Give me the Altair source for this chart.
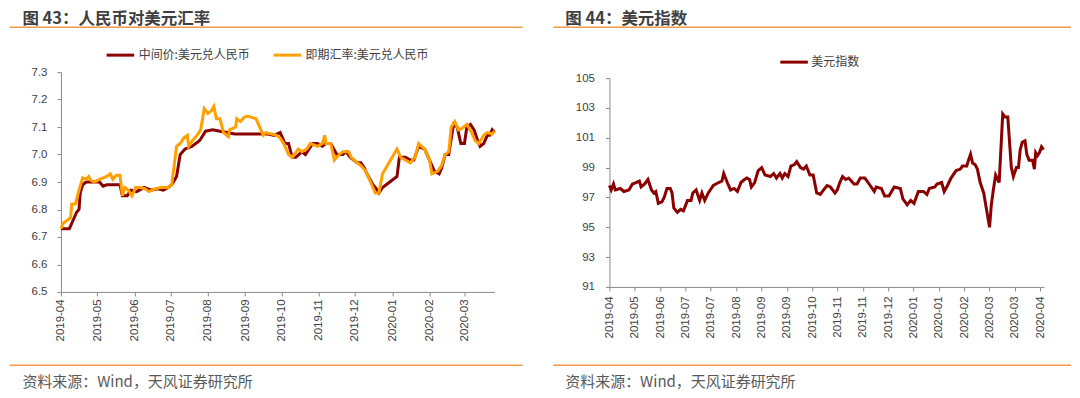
import json
import altair as alt
import pandas as pd

# ---------------- data: left panel (USD/CNY) ----------------
mid_dates = ["2019-04-01","2019-04-08","2019-04-11","2019-04-14","2019-04-16","2019-04-17","2019-04-19","2019-04-22",
             "2019-05-03","2019-05-06","2019-05-09","2019-05-20","2019-05-22","2019-05-26","2019-05-29","2019-06-03",
             "2019-06-09","2019-06-15","2019-06-20","2019-06-25","2019-06-29","2019-07-02","2019-07-06","2019-07-09",
             "2019-07-13","2019-07-19","2019-07-25","2019-07-28","2019-07-30","2019-08-05","2019-08-11","2019-08-17",
             "2019-08-23","2019-09-20","2019-09-25","2019-09-30","2019-10-04","2019-10-07","2019-10-10","2019-10-13",
             "2019-10-18","2019-10-21","2019-10-24","2019-10-27","2019-10-31","2019-11-04","2019-11-07","2019-11-11",
             "2019-11-16","2019-11-21","2019-11-24","2019-11-27","2019-12-03","2019-12-06","2019-12-09","2019-12-11",
             "2019-12-16","2019-12-18","2019-12-21","2019-12-24","2019-12-30","2020-01-05","2020-01-07","2020-01-12",
             "2020-01-16","2020-01-19","2020-01-23","2020-01-28","2020-02-01","2020-02-05","2020-02-09","2020-02-11",
             "2020-02-14","2020-02-17","2020-02-18","2020-02-21","2020-02-24","2020-02-27","2020-03-01","2020-03-03",
             "2020-03-06","2020-03-09","2020-03-12","2020-03-14","2020-03-17","2020-03-20","2020-03-22","2020-03-24",
             "2020-03-26"]
mid_vals = [6.73,6.73,6.76,6.79,6.80,6.86,6.89,6.90,
            6.90,6.885,6.89,6.89,6.85,6.85,6.87,6.865,
            6.88,6.87,6.875,6.87,6.88,6.89,6.92,7.00,
            7.02,7.03,7.05,7.07,7.085,7.09,7.085,7.08,
            7.075,7.075,7.07,7.08,7.04,7.04,6.99,6.99,
            7.01,7.00,7.02,7.04,7.04,7.03,7.04,7.04,
            7.00,7.00,7.01,6.99,6.97,6.97,6.95,6.93,
            6.89,6.88,6.86,6.88,6.90,6.92,6.99,6.99,
            6.98,6.98,7.03,7.02,6.98,6.94,6.93,6.95,
            7.00,7.00,7.03,7.11,7.10,7.04,7.04,7.10,
            7.11,7.09,7.05,7.03,7.04,7.07,7.07,7.09,
            7.08]

spot_dates = ["2019-04-01","2019-04-03","2019-04-06","2019-04-09","2019-04-10","2019-04-13","2019-04-16","2019-04-19",
              "2019-04-22","2019-04-24","2019-04-26","2019-04-29","2019-05-03","2019-05-09","2019-05-12","2019-05-14",
              "2019-05-17","2019-05-20","2019-05-22","2019-05-24","2019-05-27","2019-05-30","2019-06-02","2019-06-06",
              "2019-06-10","2019-06-13","2019-06-18","2019-06-23","2019-06-29","2019-07-02","2019-07-06","2019-07-09",
              "2019-07-12","2019-07-15","2019-07-16","2019-07-19","2019-07-23","2019-07-26","2019-07-29","2019-08-01",
              "2019-08-04","2019-08-06","2019-08-08","2019-08-11","2019-08-14","2019-08-18","2019-08-19","2019-08-24",
              "2019-08-25","2019-08-28","2019-08-31","2019-09-03","2019-09-10","2019-09-13","2019-09-16","2019-09-18",
              "2019-09-23","2019-09-27","2019-09-30","2019-10-03","2019-10-07","2019-10-10","2019-10-15","2019-10-18",
              "2019-10-22","2019-10-25","2019-10-28","2019-10-31","2019-11-04","2019-11-06","2019-11-07","2019-11-11",
              "2019-11-14","2019-11-18","2019-11-21","2019-11-26","2019-11-28","2019-12-03","2019-12-06","2019-12-10",
              "2019-12-13","2019-12-16","2019-12-18","2019-12-21","2019-12-24","2019-12-28","2020-01-05","2020-01-08",
              "2020-01-12","2020-01-16","2020-01-20","2020-01-23","2020-01-28","2020-02-01","2020-02-03","2020-02-08",
              "2020-02-11","2020-02-14","2020-02-17","2020-02-19","2020-02-22","2020-02-25","2020-02-28","2020-03-03",
              "2020-03-07","2020-03-10","2020-03-13","2020-03-17","2020-03-20","2020-03-24","2020-03-26"]
spot_vals = [6.73,6.75,6.76,6.77,6.82,6.82,6.87,6.915,
             6.91,6.92,6.905,6.90,6.91,6.92,6.93,6.91,
             6.925,6.925,6.85,6.88,6.87,6.85,6.88,6.88,
             6.875,6.865,6.875,6.88,6.88,6.89,7.03,7.04,
             7.06,7.07,7.03,7.05,7.07,7.09,7.167,7.15,
             7.16,7.175,7.13,7.13,7.08,7.065,7.09,7.10,
             7.13,7.12,7.135,7.14,7.13,7.10,7.07,7.08,
             7.075,7.07,7.06,7.04,7.00,6.99,7.02,7.01,
             7.02,7.04,7.035,7.03,7.04,7.07,7.04,7.04,
             6.98,7.00,7.01,7.01,6.99,6.97,6.96,6.94,
             6.91,6.88,6.86,6.86,6.93,6.96,7.02,6.99,
             6.98,6.97,6.99,7.04,7.02,6.98,6.93,6.94,
             6.96,7.00,7.01,7.10,7.12,7.09,7.095,7.11,
             7.08,7.05,7.04,7.07,7.08,7.075,7.085]

left_ticks = ["2019-04","2019-05","2019-06","2019-07","2019-08","2019-09",
              "2019-10","2019-11","2019-12","2020-01","2020-02","2020-03"]
left_yticks = [6.5, 6.6, 6.7, 6.8, 6.9, 7.0, 7.1, 7.2, 7.3]

# ---------------- data: right panel (US dollar index) ----------------
# position measured in units of the category-axis tick interval
dxy_pos = [0.00,0.07,0.16,0.23,0.43,0.57,0.77,0.91,1.05,1.18,1.25,1.39,1.52,1.66,1.75,1.83,1.93,2.07,2.16,2.27,
           2.40,2.47,2.54,2.68,2.81,2.92,3.08,3.22,3.29,3.42,3.56,3.65,3.76,3.90,4.10,4.31,4.44,4.51,4.65,4.78,
           4.92,5.05,5.19,5.33,5.42,5.53,5.60,5.73,5.87,6.01,6.14,6.35,6.48,6.59,6.73,6.82,6.92,7.05,7.16,7.30,
           7.39,7.54,7.66,7.77,7.91,8.04,8.18,8.32,8.45,8.59,8.72,8.90,8.99,9.09,9.20,9.33,9.44,9.65,9.77,9.90,
           10.08,10.29,10.45,10.53,10.73,10.86,11.03,11.24,11.48,11.58,11.75,11.89,12.02,12.19,12.39,12.53,12.62,
           12.84,12.93,13.11,13.21,13.34,13.48,13.68,13.85,13.93,14.10,14.17,14.25,14.33,14.43,14.52,14.63,14.77,
           14.85,15.00,15.07,15.15,15.24,15.38,15.52,15.61,15.72,15.86,15.94,16.06,16.14,16.21,16.29,16.40,16.47,
           16.56,16.70,16.77,16.82,16.89,16.97,17.05,17.13]
dxy_vals = [97.8,97.5,97.9,97.5,97.6,97.4,97.5,97.9,98.0,98.1,97.7,97.9,98.2,97.5,97.3,97.4,96.6,96.7,97.0,97.6,
            97.6,97.3,96.3,96.0,96.2,96.1,96.8,96.8,97.3,97.5,96.8,97.3,96.8,97.3,97.8,98.0,98.1,98.6,98.0,97.5,
            97.6,97.4,98.0,98.2,98.3,98.2,97.7,98.0,98.8,99.0,98.5,98.4,98.6,98.3,98.6,98.3,98.6,98.4,99.1,99.2,
            99.4,99.0,98.9,99.1,98.5,98.5,97.3,97.2,97.5,97.8,97.7,97.3,97.5,98.0,98.4,98.2,98.3,97.9,97.9,98.3,
            98.3,97.8,97.4,97.7,97.6,97.1,97.1,97.7,97.6,96.9,96.5,96.8,96.6,97.4,97.4,97.2,97.6,
            97.7,97.9,98.0,97.4,97.8,98.3,98.8,98.9,99.1,99.1,99.5,99.9,99.3,99.2,98.9,98.0,97.3,
            96.5,95.0,96.5,97.5,98.5,98.0,102.6,102.4,102.4,99.0,98.4,99.0,99.0,100.2,100.7,100.8,99.9,
            99.5,99.5,98.9,100.0,99.8,100.0,100.4,100.2]
right_ticks = ["2019-04","2019-05","2019-06","2019-07","2019-07","2019-08","2019-09","2019-09","2019-10",
               "2019-11","2019-11","2019-12","2020-01","2020-01","2020-02","2020-03","2020-03","2020-04"]
right_yticks = [91, 93, 95, 97, 99, 101, 103, 105]

# ---------------- styling ----------------
CJK = "Noto Sans CJK SC"
NUM = "Liberation Sans"
DARK = "#8B0000"
ORANGE = "#FFA000"
RULE = "#F2994A"
TITLE_C = "#3F3F3F"
FOOT_C = "#595959"
AXIS_C = "#8A8A8A"
LABEL_C = "#404040"

one = pd.DataFrame({"k": [0]})


def txt(x, y, s, size, color, weight="normal"):
    return alt.Chart(one).mark_text(
        align="left", baseline="middle", font=CJK, fontSize=size, color=color, fontWeight=weight
    ).encode(x=alt.value(x), y=alt.value(y), text=alt.value(s))


def hrule(x1, x2, y, color, w):
    return alt.Chart(one).mark_rule(color=color, strokeWidth=w).encode(
        x=alt.value(x1), x2=alt.value(x2), y=alt.value(y)
    )


# ---------------- left panel ----------------
mid_df = pd.DataFrame({"date": pd.to_datetime(mid_dates), "v": mid_vals})
spot_df = pd.DataFrame({"date": pd.to_datetime(spot_dates), "v": spot_vals})

def dt(s):
    y, m = s.split("-")
    return alt.DateTime(year=int(y), month=int(m), date=1)

x_left = alt.X(
    "date:T",
    scale=alt.Scale(domain=[alt.DateTime(year=2019, month=4, date=1),
                            alt.DateTime(year=2020, month=3, date=26)], nice=False),
    axis=alt.Axis(values=[dt(s) for s in left_ticks], format="%Y-%m", labelAngle=270,
                  labelPadding=3, labelFlush=False, labelOverlap=False, title=None),
)
y_left = alt.Y(
    "v:Q",
    scale=alt.Scale(domain=[6.5, 7.3], nice=False, zero=False),
    axis=alt.Axis(values=left_yticks, format=".1f", labelPadding=10, title=None),
)

mid_line = alt.Chart(mid_df).mark_line(color=DARK, strokeWidth=3).encode(x=x_left, y=y_left)
spot_line = alt.Chart(spot_df).mark_line(color=ORANGE, strokeWidth=3).encode(x=x_left, y=y_left)

anchor = alt.Chart(one).mark_rule(opacity=0, strokeOpacity=0).encode(
    x=alt.value(-53), x2=alt.value(-53), y=alt.value(-64), y2=alt.value(-64)
)

left = alt.layer(
    anchor,
    mid_line,
    spot_line,
    txt(-38.6, -53, "图 43：人民币对美元汇率", 16.5, TITLE_C, "bold"),
    hrule(-51.4, 462, -45, RULE, 1.5),
    hrule(45.7, 73.3, -17, DARK, 3),
    txt(77.8, -17, "中间价:美元兑人民币", 12, LABEL_C),
    hrule(212.8, 240.3, -17, ORANGE, 3),
    txt(244.8, -17, "即期汇率:美元兑人民币", 12, LABEL_C),
    hrule(-51.4, 462, 293.4, RULE, 1.5),
    txt(-38.6, 310, "资料来源：Wind，天风证券研究所", 15, FOOT_C),
).properties(width=434, height=220)

# ---------------- right panel ----------------
dxy_df = pd.DataFrame({"t": dxy_pos, "v": dxy_vals})
x_right = alt.X(
    "t:Q",
    scale=alt.Scale(domain=[0, 17.15], nice=False, zero=False),
    axis=alt.Axis(values=list(range(len(right_ticks))),
                  labelExpr=json.dumps(right_ticks) + "[datum.value]",
                  labelAngle=270, labelPadding=5, labelFlush=False, labelOverlap=False, title=None),
)
y_right = alt.Y(
    "v:Q",
    scale=alt.Scale(domain=[91, 105], range=[215, 6], nice=False, zero=False),
    axis=alt.Axis(values=right_yticks, format="d", labelPadding=11, title=None),
)
dxy_line = alt.Chart(dxy_df).mark_line(color=DARK, strokeWidth=3).encode(x=x_right, y=y_right)

right = alt.layer(
    dxy_line,
    txt(-44.2, -53, "图 44：美元指数", 16.5, TITLE_C, "bold"),
    hrule(-56.2, 462, -45, RULE, 1.5),
    hrule(171, 198.6, -10, DARK, 3),
    txt(202, -10, "美元指数", 12, LABEL_C),
    hrule(-56.2, 462, 293.4, RULE, 1.5),
    txt(-44.2, 310, "资料来源：Wind，天风证券研究所", 15, FOOT_C),
).properties(width=435, height=215)

chart = alt.hconcat(left, right, spacing=115, bounds="flush").properties(
    padding=0
).configure_view(stroke=None).configure_axis(
    grid=False,
    domainColor=AXIS_C,
    tickColor=AXIS_C,
    tickSize=4,
    labelColor=LABEL_C,
    labelFont=NUM,
    labelFontSize=11.5,
)

chart.save("out.html", embed_options={"renderer": "svg", "actions": False})
